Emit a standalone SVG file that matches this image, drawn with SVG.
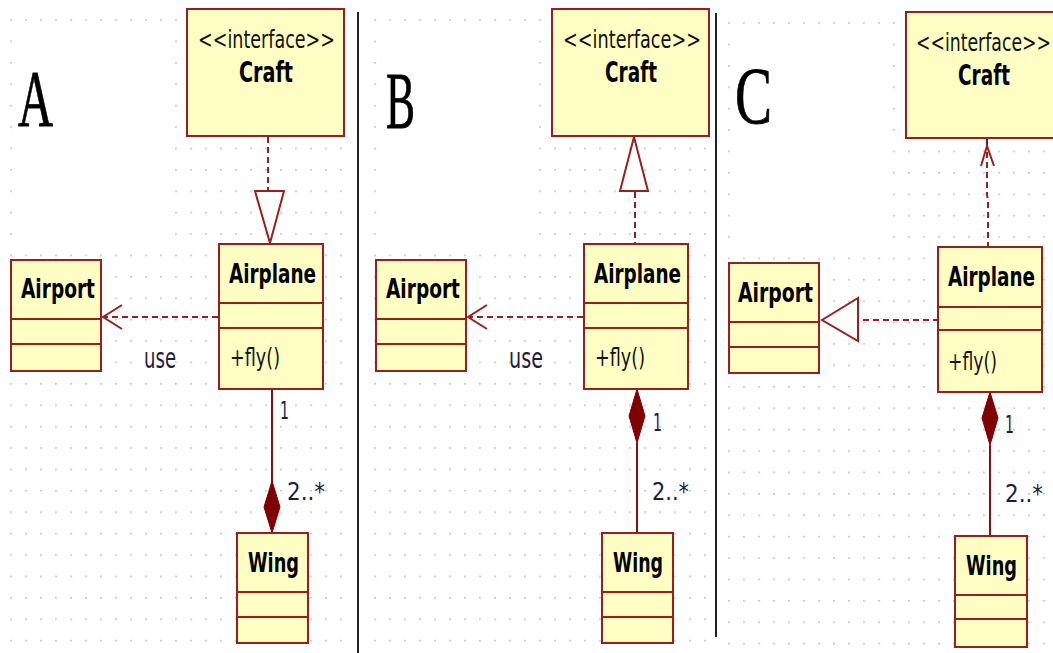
<svg xmlns="http://www.w3.org/2000/svg" width="1053" height="653" viewBox="0 0 1053 653">
<style>
.box{fill:#ffffc4;stroke:#9b1d1d;stroke-width:2}
.div{stroke:#9b1d1d;stroke-width:2}
.cls{font-family:"DejaVu Sans",sans-serif;font-weight:bold;font-size:27px;fill:#000}
.ster{font-family:"DejaVu Sans",sans-serif;font-size:24px;fill:#111}
.op{font-family:"DejaVu Sans",sans-serif;font-size:25px;fill:#111}
.lbl{font-family:"DejaVu Sans",sans-serif;font-size:25px;fill:#1c1c40}
.pan{font-family:"Liberation Serif",serif;font-size:81px;fill:#000;stroke:#000;stroke-width:0.8}
.dash{stroke:#9b1d1d;stroke-width:2;stroke-dasharray:6 4;fill:none}
.solid{stroke:#8b0f0f;stroke-width:2;fill:none}
.hollow{stroke:#9b1d1d;stroke-width:2;fill:#fff}
.dia{fill:#800000;stroke:#800000;stroke-width:1}
.sep{stroke:#222;stroke-width:2}
</style>
<defs>
<pattern id="gA" patternUnits="userSpaceOnUse" x="10.2" y="19.2" width="15" height="21.4"><rect x="0" y="0" width="1.6" height="1.6" fill="#b8b8b8"/></pattern>
<pattern id="gB" patternUnits="userSpaceOnUse" x="374.2" y="19.2" width="15" height="21.4"><rect x="0" y="0" width="1.6" height="1.6" fill="#b8b8b8"/></pattern>
<pattern id="gC" patternUnits="userSpaceOnUse" x="728.2" y="22.2" width="15" height="21.4"><rect x="0" y="0" width="1.6" height="1.6" fill="#b8b8b8"/></pattern>
</defs>
<rect width="1053" height="653" fill="#fff"/>
<g id="grid">
<rect x="5" y="14" width="345" height="639" fill="url(#gA)"/>
<rect x="368" y="14" width="344" height="639" fill="url(#gB)"/>
<rect x="722" y="17" width="331" height="636" fill="url(#gC)"/>
<rect x="18" y="30" width="152" height="215" fill="#fff"/>
<rect x="382" y="30" width="153" height="215" fill="#fff"/>
<rect x="736" y="33" width="152" height="215" fill="#fff"/>
</g>
<g id="separators">
<line class="sep" x1="358" y1="12" x2="358" y2="653"/>
<line class="sep" x1="716" y1="13" x2="716" y2="637"/>
</g>
<g id="panel-labels">
<text class="pan" x="18" y="126" textLength="35" lengthAdjust="spacingAndGlyphs">A</text>
<text class="pan" x="386" y="128" textLength="29" lengthAdjust="spacingAndGlyphs">B</text>
<text class="pan" x="735" y="123" textLength="37" lengthAdjust="spacingAndGlyphs">C</text>
</g>
<g id="connectors">
<line class="dash" x1="268" y1="137" x2="268" y2="191"/>
<polygon class="hollow" points="255,191 284,191 270,243"/>
<line class="dash" x1="218" y1="317" x2="105" y2="317"/>
<polyline class="dash" style="stroke-dasharray:none" points="122,305 103,317 122,329"/>
<line class="solid" x1="272" y1="390" x2="272" y2="482"/>
<polygon class="dia" points="272,481 280,507 272,533 264,507"/>
<text class="lbl" x="144" y="368" textLength="32" lengthAdjust="spacingAndGlyphs" style="font-size:28px">use</text>
<text class="lbl" x="280" y="419" textLength="9" lengthAdjust="spacingAndGlyphs">1</text>
<text class="lbl" x="287" y="500" textLength="38" lengthAdjust="spacingAndGlyphs">2..*</text>
<polygon class="hollow" points="634,137 620,191 648,191"/>
<line class="dash" x1="635" y1="192" x2="635" y2="244"/>
<line class="dash" x1="583" y1="317" x2="470" y2="317"/>
<polyline class="dash" style="stroke-dasharray:none" points="487,305 468,317 487,329"/>
<polygon class="dia" points="637,389 645,416 637,443 629,416"/>
<line class="solid" x1="637" y1="443" x2="637" y2="533"/>
<text class="lbl" x="509" y="368" textLength="34" lengthAdjust="spacingAndGlyphs" style="font-size:28px">use</text>
<text class="lbl" x="653" y="431" textLength="9" lengthAdjust="spacingAndGlyphs">1</text>
<text class="lbl" x="652" y="500" textLength="37" lengthAdjust="spacingAndGlyphs">2..*</text>
<line class="solid" x1="987" y1="139" x2="987" y2="147"/>
<polyline class="dash" style="stroke-dasharray:none" points="981,166 987,146 994,166"/>
<path class="dash" d="M987,152 L987,195 L988,200 L988,246"/>
<polygon class="hollow" points="822,320 858,298 858,341"/>
<line class="dash" x1="863" y1="320" x2="937" y2="320"/>
<polygon class="dia" points="990,392 998,418 990,445 982,418"/>
<line class="solid" x1="990" y1="445" x2="990" y2="536"/>
<text class="lbl" x="1005" y="433" textLength="9" lengthAdjust="spacingAndGlyphs">1</text>
<text class="lbl" x="1005" y="502" textLength="38" lengthAdjust="spacingAndGlyphs">2..*</text>
</g>
<g id="a-craft" transform="translate(187,9)">
<rect class="box" x="0" y="0" width="157" height="127"/>
<text class="ster" x="11" y="39" textLength="137" lengthAdjust="spacingAndGlyphs">&lt;&lt;interface&gt;&gt;</text>
<text class="cls" x="52" y="73" textLength="54" lengthAdjust="spacingAndGlyphs" style="font-size:28px">Craft</text>
</g>
<g id="a-airplane" transform="translate(219,244)">
<rect class="box" x="0" y="0" width="104" height="145"/>
<line class="div" x1="0" y1="59" x2="104" y2="59"/>
<line class="div" x1="0" y1="84" x2="104" y2="84"/>
<text class="cls" x="10" y="39" textLength="87" lengthAdjust="spacingAndGlyphs">Airplane</text>
<text class="op" x="11" y="122" textLength="50" lengthAdjust="spacingAndGlyphs">+fly()</text>
</g>
<g id="a-airport" transform="translate(11,260)">
<rect class="box" x="0" y="0" width="90" height="111"/>
<line class="div" x1="0" y1="59" x2="90" y2="59"/>
<line class="div" x1="0" y1="84" x2="90" y2="84"/>
<text class="cls" x="10" y="38" textLength="74" lengthAdjust="spacingAndGlyphs">Airport</text>
</g>
<g id="a-wing" transform="translate(237,533)">
<rect class="box" x="0" y="0" width="71" height="110"/>
<line class="div" x1="0" y1="59" x2="71" y2="59"/>
<line class="div" x1="0" y1="84" x2="71" y2="84"/>
<text class="cls" x="11" y="39" textLength="51" lengthAdjust="spacingAndGlyphs">Wing</text>
</g>
<g id="b-craft" transform="translate(552,9)">
<rect class="box" x="0" y="0" width="157" height="127"/>
<text class="ster" x="11" y="39" textLength="138" lengthAdjust="spacingAndGlyphs">&lt;&lt;interface&gt;&gt;</text>
<text class="cls" x="53" y="73" textLength="52" lengthAdjust="spacingAndGlyphs" style="font-size:28px">Craft</text>
</g>
<g id="b-airplane" transform="translate(584,244)">
<rect class="box" x="0" y="0" width="104" height="145"/>
<line class="div" x1="0" y1="59" x2="104" y2="59"/>
<line class="div" x1="0" y1="84" x2="104" y2="84"/>
<text class="cls" x="10" y="39" textLength="87" lengthAdjust="spacingAndGlyphs">Airplane</text>
<text class="op" x="11" y="122" textLength="50" lengthAdjust="spacingAndGlyphs">+fly()</text>
</g>
<g id="b-airport" transform="translate(376,260)">
<rect class="box" x="0" y="0" width="90" height="111"/>
<line class="div" x1="0" y1="59" x2="90" y2="59"/>
<line class="div" x1="0" y1="84" x2="90" y2="84"/>
<text class="cls" x="10" y="38" textLength="74" lengthAdjust="spacingAndGlyphs">Airport</text>
</g>
<g id="b-wing" transform="translate(602,533)">
<rect class="box" x="0" y="0" width="71" height="110"/>
<line class="div" x1="0" y1="59" x2="71" y2="59"/>
<line class="div" x1="0" y1="84" x2="71" y2="84"/>
<text class="cls" x="11" y="39" textLength="50" lengthAdjust="spacingAndGlyphs">Wing</text>
</g>
<g id="c-craft" transform="translate(906,12)">
<rect class="box" x="0" y="0" width="157" height="126"/>
<text class="ster" x="10" y="39" textLength="135" lengthAdjust="spacingAndGlyphs">&lt;&lt;interface&gt;&gt;</text>
<text class="cls" x="52" y="73" textLength="52" lengthAdjust="spacingAndGlyphs" style="font-size:28px">Craft</text>
</g>
<g id="c-airplane" transform="translate(938,247)">
<rect class="box" x="0" y="0" width="104" height="145"/>
<line class="div" x1="0" y1="60" x2="104" y2="60"/>
<line class="div" x1="0" y1="83" x2="104" y2="83"/>
<text class="cls" x="10" y="39" textLength="87" lengthAdjust="spacingAndGlyphs">Airplane</text>
<text class="op" x="10" y="123" textLength="49" lengthAdjust="spacingAndGlyphs">+fly()</text>
</g>
<g id="c-airport" transform="translate(729,263)">
<rect class="box" x="0" y="0" width="90" height="110"/>
<line class="div" x1="0" y1="59" x2="90" y2="59"/>
<line class="div" x1="0" y1="84" x2="90" y2="84"/>
<text class="cls" x="9" y="39" textLength="75" lengthAdjust="spacingAndGlyphs">Airport</text>
</g>
<g id="c-wing" transform="translate(955,536)">
<rect class="box" x="0" y="0" width="72" height="111"/>
<line class="div" x1="0" y1="59" x2="72" y2="59"/>
<line class="div" x1="0" y1="83" x2="72" y2="83"/>
<text class="cls" x="11" y="39" textLength="51" lengthAdjust="spacingAndGlyphs">Wing</text>
</g>
</svg>
